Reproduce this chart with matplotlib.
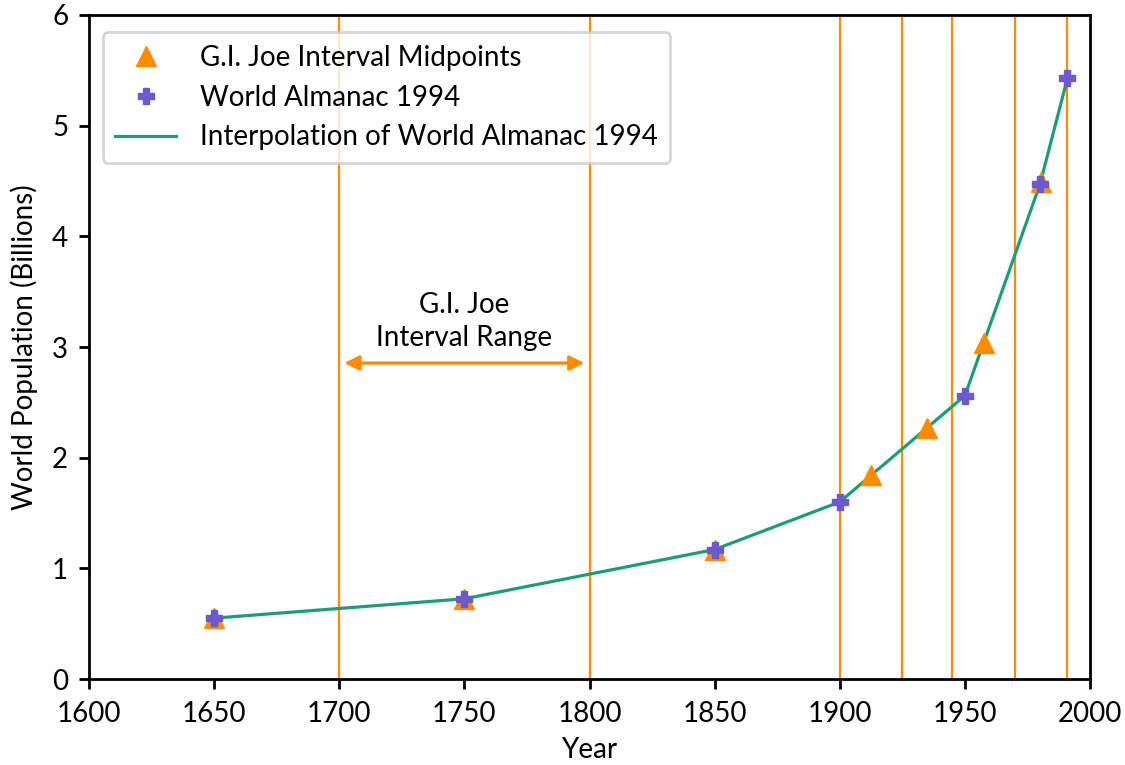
import matplotlib
matplotlib.use("Agg")
import matplotlib.pyplot as plt

plt.rcParams['font.family'] = ['Lato', 'DejaVu Sans']

# Data
almanac_years = [1650, 1750, 1850, 1900, 1950, 1980, 1991]
almanac_pop = [0.55, 0.725, 1.17, 1.60, 2.56, 4.47, 5.43]

joe_mid_years = [1650, 1750, 1850, 1912.5, 1935, 1957.5, 1980.5]
joe_mid_pop = [0.55, 0.725, 1.17, 1.84, 2.27, 3.04, 4.49]

interval_bounds = [1700, 1800, 1900, 1925, 1945, 1970, 1991]

xticks = [1600, 1650, 1700, 1750, 1800, 1850, 1900, 1950, 2000]
yticks = [0, 1, 2, 3, 4, 5, 6]

ORANGE = '#ff8c00'
PURPLE = '#6a5acd'
GREEN = '#1b9e77'
FS = 20

fig = plt.figure(figsize=(11.25, 7.65), dpi=100)
ax = fig.add_axes([0.0791, 0.1124, 0.8898, 0.868])

for xb in interval_bounds:
    ax.axvline(xb, color=ORANGE, lw=1.6, zorder=1)

ax.plot(joe_mid_years, joe_mid_pop, linestyle='none', marker='^', ms=15,
        color=ORANGE, label='G.I. Joe Interval Midpoints', zorder=3)
ax.plot(almanac_years, almanac_pop, linestyle='none', marker='P', ms=12,
        color=PURPLE, label='World Almanac 1994', zorder=4)
ax.plot(almanac_years, almanac_pop, linestyle='-', lw=2.3, color=GREEN,
        label='Interpolation of World Almanac 1994', zorder=2)

ax.annotate('', xy=(1702, 2.855), xytext=(1798, 2.855),
            arrowprops=dict(arrowstyle='<|-|>', color=ORANGE, lw=2.3,
                            mutation_scale=22, shrinkA=0, shrinkB=0))
ax.text(1750, 3.23, 'G.I. Joe\nInterval Range', ha='center', va='center',
        fontsize=FS, linespacing=1.3)

ax.set_xlim(1600, 2000)
ax.set_ylim(0, 6)
ax.set_xticks(xticks)
ax.set_yticks(yticks)
ax.tick_params(labelsize=FS, width=2, length=7)
ax.tick_params(axis='x', pad=9)
ax.tick_params(axis='y', pad=8)
for s in ax.spines.values():
    s.set_linewidth(2)
ax.set_xlabel('Year', fontsize=FS, labelpad=7)
ax.set_ylabel('World Population (Billions)', fontsize=FS, labelpad=10)

leg = ax.legend(loc='upper left', fontsize=FS, frameon=True, fancybox=True,
                borderpad=0.45, handlelength=2.2, handletextpad=0.85,
                labelspacing=0.5, bbox_to_anchor=(0.0, 0.995))
leg.get_frame().set_linewidth(2)
leg.get_frame().set_edgecolor('#cccccc')

fig.savefig('out.png', dpi=100)
